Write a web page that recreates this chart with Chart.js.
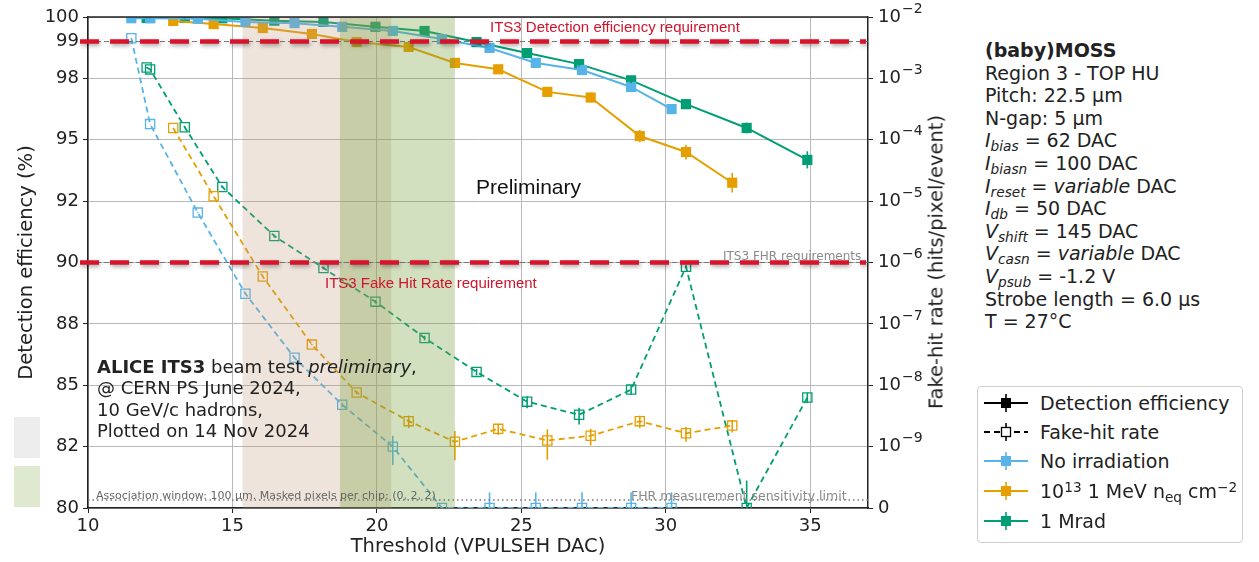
<!DOCTYPE html>
<html>
<head>
<meta charset="utf-8">
<script src="https://cdn.jsdelivr.net/npm/chart.js@4.4.1/dist/chart.umd.min.js"></script>
<style>
  body { margin: 0; width: 1259px; height: 562px; background: #fff; position: relative; overflow: hidden;
         font-family: "DejaVu Sans", sans-serif; color: #222; }
  #wrap { position: absolute; left: 0; top: 0; width: 960px; height: 562px; }
  .t { position: absolute; white-space: nowrap; line-height: 1; }
  .red { color: #d0142c; font-family: "Liberation Sans", Arial, sans-serif; font-size: 15px; }
  .gray { color: #8a8a8a; font-size: 12px; }
  #params { position: absolute; left: 985px; top: 39px; font-size: 19px; line-height: 22.6px; color: #222; white-space: nowrap; }
  #params sub, #legend sub { font-size: 0.72em; vertical-align: -0.3em; line-height: 0; }
  #params sup, #legend sup { font-size: 0.72em; vertical-align: 0.45em; line-height: 0; }
  #legend { position: absolute; left: 977px; top: 386px; width: 264px; height: 155px; border: 1px solid #d0d0d0;
            border-radius: 4px; font-size: 19px; color: #222; }
  #legend .row { position: absolute; left: 6px; height: 20px; display: flex; align-items: center; white-space: nowrap; }
  #legend svg { margin-right: 12px; }
  #alice { position: absolute; left: 97px; top: 356px; font-size: 18px; line-height: 21.3px; color: #222; white-space: nowrap; }
  .swatch { position: absolute; left: 14px; width: 26px; height: 41px; }
  #ylabel2 { position: absolute; left: 936px; top: 262px; font-size: 19.5px; white-space: nowrap;
             transform: translate(-50%, -50%) rotate(-90deg); }
</style>
</head>
<body>
<div id="wrap"><canvas id="chart"></canvas></div>

<div class="swatch" style="top:417px;background:#ededed"></div>
<div class="swatch" style="top:466px;background:#dfe9d0"></div>

<div class="t red" style="left:490px;top:19px">ITS3 Detection efficiency requirement</div>
<div class="t red" style="left:325px;top:275px">ITS3 Fake Hit Rate requirement</div>
<div class="t gray" style="left:723px;top:250px">ITS3 FHR requirements</div>
<div class="t" style="left:476px;top:176px;font-size:21px;font-family:'Liberation Sans',Arial,sans-serif;color:#111">Preliminary</div>
<div id="alice"><b>ALICE ITS3</b> beam test <i>preliminary</i>,<br>@ CERN PS June 2024,<br>10 GeV/c hadrons,<br>Plotted on 14 Nov 2024</div>
<div class="t" style="left:96px;top:490px;font-size:11px;color:#666">Association window: 100 µm. Masked pixels per chip: (0, 2, 2)</div>
<div class="t gray" style="left:631px;top:490px;font-size:12.5px">FHR measurement sensitivity limit</div>
<div id="ylabel2">Fake-hit rate (hits/pixel/event)</div>

<div id="params">
  <b>(baby)MOSS</b><br>
  Region 3 - TOP HU<br>
  Pitch: 22.5 µm<br>
  N-gap: 5 µm<br>
  <i>I</i><sub><i>bias</i></sub> = 62 DAC<br>
  <i>I</i><sub><i>biasn</i></sub> = 100 DAC<br>
  <i>I</i><sub><i>reset</i></sub> = <i>variable</i> DAC<br>
  <i>I</i><sub><i>db</i></sub> = 50 DAC<br>
  <i>V</i><sub><i>shift</i></sub> = 145 DAC<br>
  <i>V</i><sub><i>casn</i></sub> = <i>variable</i> DAC<br>
  <i>V</i><sub><i>psub</i></sub> = -1.2 V<br>
  Strobe length = 6.0 µs<br>
  T = 27°C
</div>

<div id="legend"></div>

<script>
// threshold scan, x in VPULSEH DAC
const threshNoIrr = [11.5, 12.15, 13.8, 15.45, 17.15, 18.8, 20.55, 22.25, 23.9, 25.5, 27.1, 28.8, 30.2];
const effNoIrr = [99.95, 99.95, 99.93, 99.8, 99.75, 99.6, 99.43, 99.1, 98.74, 98.13, 97.84, 97.15, 96.25];
const effErrNoIrr = [0.03, 0.03, 0.03, 0.04, 0.04, 0.05, 0.05, 0.06, 0.07, 0.08, 0.08, 0.1, 0.12];
const fhrNoIrr = [4.5e-3, 1.8e-4, 6.5e-6, 3.1e-7, 2.8e-8, 4.8e-9, 1.0e-9, 0, 0, 0, 0, 0, 0];
const fhrErrNoIrr = [1e-5, 1e-6, 1e-7, 5e-9, 1e-9, 4e-10, 5e-10, 0, 1.8e-10, 1.8e-10, 1.8e-10, 1.8e-10, 1.8e-10];

const threshNeq = [12.95, 14.35, 16.05, 17.75, 19.3, 21.1, 22.7, 24.2, 25.9, 27.4, 29.1, 30.7, 32.3];
const effNeq = [99.84, 99.71, 99.55, 99.31, 98.98, 98.78, 98.13, 97.87, 96.95, 96.72, 95.15, 94.5, 93.25];
const effErrNeq = [0.03, 0.03, 0.04, 0.05, 0.06, 0.07, 0.1, 0.12, 0.18, 0.2, 0.25, 0.3, 0.4];
const fhrNeq = [1.55e-4, 1.2e-5, 5.9e-7, 4.6e-8, 7.6e-9, 2.6e-9, 1.2e-9, 1.95e-9, 1.26e-9, 1.5e-9, 2.6e-9, 1.65e-9, 2.2e-9];
const fhrErrNeq = [1e-6, 1e-7, 1e-8, 1e-9, 5e-10, 6e-10, 6e-10, 4e-10, 6.5e-10, 4.5e-10, 6e-10, 4.5e-10, 5e-10];

const threshMrad = [12.03, 12.15, 13.35, 14.65, 16.45, 18.15, 19.95, 21.65, 23.45, 25.2, 27.0, 28.8, 30.7, 32.8, 34.9];
const effMrad = [99.96, 99.96, 99.96, 99.95, 99.85, 99.8, 99.6, 99.43, 98.98, 98.53, 98.08, 97.42, 96.45, 95.48, 94.18];
const effErrMrad = [0.02, 0.02, 0.02, 0.02, 0.03, 0.04, 0.05, 0.05, 0.06, 0.08, 0.1, 0.12, 0.2, 0.22, 0.35];
const fhrMrad = [1.5e-3, 1.4e-3, 1.6e-4, 1.7e-5, 2.7e-6, 8.1e-7, 2.3e-7, 5.9e-8, 1.65e-8, 5.4e-9, 3.3e-9, 8.5e-9, 8.5e-7, 0, 6.3e-9];
const fhrErrMrad = [2e-5, 2e-5, 4e-6, 6e-7, 1.5e-7, 4e-8, 1.5e-8, 5e-9, 2e-9, 1.2e-9, 1e-9, 1.5e-9, 4e-8, 2.8e-10, 1.2e-9];

// axes
const xTicks = [10, 15, 20, 25, 30, 35];
const effTicks = [80, 82.5, 85, 87.5, 90, 92.5, 95, 97.5, 99, 100];
const fhrExponents = [-10, -9, -8, -7, -6, -5, -4, -3, -2];
const FHR_ZERO = 1e-10; // "0" is drawn at the bottom of the log axis

// shaded threshold ranges and requirement lines
const bandStart = [15.35, 18.72];
const bandEnd = [20.5, 22.7];
const bandColors = ["rgba(190,150,120,0.26)", "rgba(120,160,60,0.33)"];
const effRequirement = 99;
const fhrRequirement = 1e-6;
const fhrSensitivity = 1.35e-10;

const BLUE = "#56b4e9";
const ORANGE = "#e69f00";
const GREEN = "#009e73";

function effDataset(label, xs, ys, errs, color) {
  return {
    label: label,
    data: xs.map((x, i) => ({ x: x, y: ys[i] })),
    values: ys,
    errors: errs,
    yAxisID: "yEff",
    borderColor: color,
    backgroundColor: color,
    borderWidth: 2,
    pointStyle: "rect",
    pointRadius: 7.2,
    pointBorderWidth: 0,
    pointBackgroundColor: color,
  };
}

function fhrDataset(label, xs, ys, errs, color) {
  return {
    label: label,
    data: xs.map((x, i) => ({ x: x, y: Math.max(ys[i], FHR_ZERO) })),
    values: ys,
    errors: errs,
    yAxisID: "yFhr",
    borderColor: color,
    backgroundColor: "rgba(0,0,0,0)",
    borderWidth: 1.8,
    borderDash: [6, 4],
    pointStyle: "rect",
    pointRadius: 6.5,
    pointBorderWidth: 1.3,
    pointBorderColor: color,
    pointBackgroundColor: "rgba(0,0,0,0)",
  };
}

function roundHalfEven(v) {
  const f = Math.floor(v);
  if (Math.abs(v - f - 0.5) < 1e-9) return f % 2 === 0 ? f : f + 1;
  return Math.round(v);
}

function requirementLine(ctx, area, y) {
  ctx.save();
  ctx.strokeStyle = "#777";
  ctx.lineWidth = 1;
  ctx.setLineDash([5, 3]);
  ctx.beginPath();
  ctx.moveTo(area.left, y);
  ctx.lineTo(area.right, y);
  ctx.stroke();
  ctx.shadowColor = "rgba(0,0,0,0.35)";
  ctx.shadowBlur = 4;
  ctx.shadowOffsetX = 1;
  ctx.shadowOffsetY = 2;
  ctx.strokeStyle = "#d7142b";
  ctx.lineWidth = 4.5;
  ctx.setLineDash([19, 11]);
  ctx.beginPath();
  ctx.moveTo(area.left - 8, y);
  ctx.lineTo(area.right - 2, y);
  ctx.stroke();
  ctx.restore();
}

const overlayPlugin = {
  id: "overlay",
  afterDatasetsDraw(chart) {
    const { ctx, chartArea: a, scales } = chart;
    const xs = scales.x;

    // error bars
    ctx.save();
    ctx.beginPath();
    ctx.rect(a.left, a.top, a.width, a.height);
    ctx.clip();
    chart.data.datasets.forEach((ds) => {
      const ys = scales[ds.yAxisID];
      ctx.strokeStyle = ds.borderColor;
      ctx.lineWidth = 1.6;
      ds.data.forEach((p, j) => {
        let lo = ds.values[j] - ds.errors[j];
        let hi = ds.values[j] + ds.errors[j];
        if (ds.yAxisID === "yFhr") {
          lo = Math.max(lo, FHR_ZERO);
          hi = Math.max(hi, FHR_ZERO);
        }
        if (hi <= lo) return;
        const px = xs.getPixelForValue(p.x);
        ctx.beginPath();
        ctx.moveTo(px, ys.getPixelForValue(lo));
        ctx.lineTo(px, ys.getPixelForValue(hi));
        ctx.stroke();
      });
    });

    // shaded threshold ranges
    bandStart.forEach((s, i) => {
      const x0 = xs.getPixelForValue(s);
      const x1 = xs.getPixelForValue(bandEnd[i]);
      ctx.fillStyle = bandColors[i];
      ctx.fillRect(x0, a.top, x1 - x0, a.height);
    });
    ctx.restore();

    // FHR sensitivity limit
    ctx.save();
    ctx.strokeStyle = "#777";
    ctx.lineWidth = 1.3;
    ctx.setLineDash([1.5, 3]);
    const ySens = scales.yFhr.getPixelForValue(fhrSensitivity);
    ctx.beginPath();
    ctx.moveTo(a.left, ySens);
    ctx.lineTo(a.right, ySens);
    ctx.stroke();
    ctx.restore();

    requirementLine(ctx, a, scales.yEff.getPixelForValue(effRequirement));
    requirementLine(ctx, a, scales.yFhr.getPixelForValue(fhrRequirement));

    // top spine
    ctx.save();
    ctx.strokeStyle = "#222";
    ctx.lineWidth = 1.5;
    ctx.beginPath();
    ctx.moveTo(a.left, a.top);
    ctx.lineTo(a.right, a.top);
    ctx.stroke();
    ctx.restore();
  },
  afterDraw(chart) {
    // right axis labels as 10 with a raised exponent
    const { ctx, chartArea: a, scales } = chart;
    const ys = scales.yFhr;
    const x0 = a.right + 10;
    ctx.save();
    ctx.fillStyle = "#222";
    ctx.textBaseline = "middle";
    ctx.textAlign = "left";
    ys.ticks.forEach((t) => {
      const y = ys.getPixelForValue(t.value);
      ctx.font = "18px 'DejaVu Sans'";
      if (t.value <= FHR_ZERO * 1.01) {
        ctx.fillText("0", x0, y);
        return;
      }
      ctx.fillText("10", x0, y);
      const w = ctx.measureText("10").width;
      ctx.font = "14px 'DejaVu Sans'";
      ctx.fillText("\u2212" + Math.abs(Math.round(Math.log10(t.value))), x0 + w + 1, y - 8);
    });
    ctx.restore();
  },
};

const tickFont = { family: "DejaVu Sans", size: 18 };
const titleFont = { family: "DejaVu Sans", size: 19.5 };

new Chart(document.getElementById("chart"), {
  type: "line",
  data: {
    datasets: [
      fhrDataset("No irradiation FHR", threshNoIrr, fhrNoIrr, fhrErrNoIrr, BLUE),
      fhrDataset("1e13 FHR", threshNeq, fhrNeq, fhrErrNeq, ORANGE),
      fhrDataset("1 Mrad FHR", threshMrad, fhrMrad, fhrErrMrad, GREEN),
      effDataset("No irradiation", threshNoIrr, effNoIrr, effErrNoIrr, BLUE),
      effDataset("1e13", threshNeq, effNeq, effErrNeq, ORANGE),
      effDataset("1 Mrad", threshMrad, effMrad, effErrMrad, GREEN),
    ],
  },
  options: {
    responsive: true,
    maintainAspectRatio: false,
    animation: false,
    layout: { padding: { top: 17, right: 0, left: 0, bottom: 0 } },
    elements: { line: { tension: 0 } },
    plugins: { legend: { display: false }, tooltip: { enabled: false } },
    scales: {
      x: {
        type: "linear",
        min: 10,
        max: 37,
        afterBuildTicks: (s) => { s.ticks = xTicks.map((v) => ({ value: v })); },
        afterFit: (s) => { s.height = 54; },
        ticks: { font: tickFont, color: "#222", padding: 3, maxRotation: 0 },
        grid: { color: "#b8b8b8", lineWidth: 1, tickLength: 5, tickColor: "#222" },
        border: { color: "#222", width: 1.5 },
        title: { display: true, text: "Threshold (VPULSEH DAC)", font: titleFont, color: "#222", padding: { top: 0, bottom: 3 } },
      },
      yEff: {
        type: "linear",
        position: "left",
        min: 80,
        max: 100,
        afterBuildTicks: (s) => { s.ticks = effTicks.map((v) => ({ value: v })); },
        afterFit: (s) => { s.width = 88; },
        ticks: { font: tickFont, color: "#222", padding: 4, callback: (v) => String(roundHalfEven(v)) },
        grid: {
          color: (c) => (c.tick && c.tick.value === effRequirement ? "rgba(0,0,0,0)" : "#b8b8b8"),
          lineWidth: 1,
          tickLength: 5,
          tickColor: "#222",
        },
        border: { color: "#222", width: 1.5 },
        title: { display: true, text: "Detection efficiency (%)", font: titleFont, color: "#222", padding: { top: 15 } },
      },
      yFhr: {
        type: "logarithmic",
        position: "right",
        min: FHR_ZERO,
        max: 1e-2,
        afterBuildTicks: (s) => { s.ticks = fhrExponents.map((e) => ({ value: Math.pow(10, e) })); },
        afterFit: (s) => { s.width = 92; },
        ticks: { display: false },
        grid: { drawOnChartArea: false, tickLength: 5, tickColor: "#222" },
        border: { color: "#222", width: 1.5 },
      },
    },
  },
  plugins: [overlayPlugin],
});

// legend (handles with line, marker and error bar)
const legendLabels = ["Detection efficiency", "Fake-hit rate", "No irradiation",
  "10<sup>13</sup> 1 MeV n<sub>eq</sub> cm<sup>−2</sup>", "1 Mrad"];
const legendColors = ["#000", "#000", BLUE, ORANGE, GREEN];
const legendDashed = [false, true, false, false, false];
const legendRowTop = [6, 35, 64, 94, 124];

function handleSvg(color, dashed) {
  const line = dashed
    ? `<line x1="0" y1="10" x2="44" y2="10" stroke="${color}" stroke-width="2" stroke-dasharray="6,4"/>`
    : `<line x1="0" y1="10" x2="44" y2="10" stroke="${color}" stroke-width="2"/>`;
  const box = dashed
    ? `<rect x="17.5" y="5.5" width="9" height="9" fill="#fff" stroke="${color}" stroke-width="1.3"/>`
    : `<rect x="17" y="5" width="10" height="10" fill="${color}"/>`;
  return `<svg width="44" height="20">${line}<line x1="22" y1="1" x2="22" y2="19" stroke="${color}" stroke-width="1.6"/>${box}</svg>`;
}

const legend = document.getElementById("legend");
legendLabels.forEach((label, i) => {
  const row = document.createElement("div");
  row.className = "row";
  row.style.top = legendRowTop[i] + "px";
  row.innerHTML = handleSvg(legendColors[i], legendDashed[i]) + "<span>" + label + "</span>";
  legend.appendChild(row);
});
</script>
</body>
</html>
